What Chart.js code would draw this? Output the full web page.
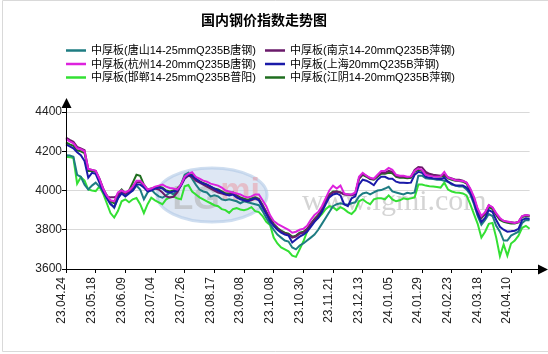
<!DOCTYPE html>
<html>
<head>
<meta charset="utf-8">
<script src="https://cdn.jsdelivr.net/npm/chart.js@4"></script>
<style>
html,body{margin:0;padding:0;background:#fff;}
canvas{display:block;}
</style>
</head>
<body>
<canvas id="c" width="548" height="354"></canvas>
<script>
// ---- DATA (one value every 2 trading days, 23.04.24 .. 24.04.24) ----
const tickLabels = ['23.04.24','23.05.18','23.06.09','23.07.04','23.07.26','23.08.17','23.09.08','23.10.08',
  '23.10.30','23.11.21','23.12.13','24.01.05','24.01.29','24.02.23','24.03.18','24.04.10'];
const pointCount = 126;
const pointsPerTick = 8;

const seriesNames = ['中厚板(唐山14-25mmQ235B唐钢)','中厚板(南京14-20mmQ235B萍钢)','中厚板(杭州14-20mmQ235B唐钢)',
  '中厚板(上海20mmQ235B萍钢)','中厚板(邯郸14-25mmQ235B普阳)','中厚板(江阴14-20mmQ235B萍钢)'];

const tangshan = [4180,4178,4172,4080,4070,4030,4005,4025, 4040,4020,4000,3970,3935,3912,3960,3995,
  3980,3990,4000,4025,4005,3955,3990,4005, 3985,3970,3963,3975,3990,3980,4000,4030,
  4080,4090,4060,4030,4005,3995,3990,3970, 3975,3970,3955,3950,3955,3950,3945,3935,
  3945,3940,3935,3930,3925,3895,3860,3830, 3800,3775,3760,3745,3740,3710,3700,3720,
  3730,3745,3760,3775,3800,3830,3860,3890, 3920,3930,3935,3930,3928,3935,3940,3970,
  3985,3990,3980,3990,4000,4002,4010,4019, 3995,3990,3985,3980,3988,3985,3990,4075,
  4075,4062,4060,4058,4055,4055,4050,4045, 4030,4025,4020,4020,4005,3980,3930,3870,
  3825,3850,3880,3870,3820,3790,3745,3745, 3770,3780,3790,3835,3850,3848];
const nanjing = [4270,4258,4248,4222,4215,4205,4110,4105, 4100,4062,4012,3970,3965,3965,3975,3995,
  3985,3995,4015,4040,4045,4025,4000,4005, 4010,4005,3990,3970,3965,3968,3990,4025,
  4060,4075,4070,4050,4040,4030,4020,4010, 4000,3990,3985,3980,3978,3985,3970,3960,
  3950,3945,3950,3960,3955,3925,3890,3855, 3825,3805,3790,3780,3775,3760,3765,3780,
  3785,3800,3830,3850,3870,3900,3940,3975, 3990,3995,3990,3980,3978,3976,3980,4060,
  4085,4075,4060,4058,4075,4090,4090,4100, 4095,4075,4070,4070,4068,4070,4105,4120,
  4118,4095,4085,4080,4078,4075,4080,4068, 4062,4055,4055,4050,4040,4005,3960,3900,
  3862,3885,3925,3912,3880,3855,3845,3840, 3838,3836,3840,3868,3875,3872];
const hangzhou = [4262,4250,4240,4215,4210,4200,4110,4105, 4100,4060,4010,3975,3950,3945,3990,4000,
  3990,4000,4020,4050,4050,4030,4005,4010, 4020,4025,4030,4020,4013,4010,4005,4030,
  4070,4085,4093,4070,4060,4050,4045,4035, 4030,4025,4015,4000,3995,3990,3985,3980,
  3970,3965,3970,3980,3980,3950,3920,3875, 3845,3830,3820,3810,3800,3785,3790,3800,
  3805,3820,3850,3875,3890,3920,3960,4000, 4025,4010,4025,3985,3980,3980,3990,4070,
  4090,4075,4065,4060,4080,4100,4100,4115, 4105,4080,4075,4075,4070,4072,4100,4112,
  4105,4080,4075,4072,4070,4072,4095,4065, 4060,4052,4050,4048,4040,4010,3968,3908,
  3870,3890,3925,3915,3885,3860,3845,3842, 3838,3835,3840,3870,3875,3872];
const shanghai = [4235,4225,4215,4195,4180,4150,4065,4090, 4085,4040,3995,3960,3930,3915,3960,3985,
  3970,3985,4000,4030,4030,4015,3995,4000, 4010,4015,4010,3995,3990,3995,4000,4025,
  4065,4080,4075,4060,4045,4035,4030,4020, 4010,4000,3990,3980,3975,3980,3965,3955,
  3950,3945,3955,3960,3950,3915,3880,3845, 3820,3800,3785,3775,3770,3735,3750,3765,
  3775,3790,3815,3840,3860,3890,3930,3965, 3980,3985,3975,3930,3920,3960,3970,4030,
  4055,4050,4040,4027,4055,4070,4070,4060, 4060,4045,4040,4040,4038,4040,4080,4095,
  4090,4070,4065,4062,4060,4058,4065,4045, 4035,4025,4025,4025,4015,3990,3940,3880,
  3840,3860,3900,3890,3850,3815,3800,3790, 3792,3795,3805,3850,3858,3855];
const handan = [4172,4170,4165,4035,4068,4050,4005,4000, 3997,4020,3985,3935,3885,3862,3895,3945,
  3955,3940,3955,3962,3930,3885,3930,3963, 3950,3940,3930,3955,3965,3970,3960,3955,
  4022,4028,3995,3980,3965,3955,3945,3935, 3925,3920,3905,3900,3886,3905,3910,3903,
  3900,3905,3915,3895,3890,3870,3840,3825, 3760,3730,3710,3700,3690,3668,3662,3700,
  3740,3790,3825,3845,3860,3880,3905,3920, 3915,3900,3915,3905,3890,3880,3900,3945,
  3955,3940,3930,3955,3960,3960,3955,3975, 3955,3945,3950,3960,3955,3960,3965,4030,
  4030,4025,4022,4020,4018,4015,4040,4005, 3995,3990,3988,3985,3975,3930,3880,3830,
  3760,3790,3830,3835,3760,3665,3725,3668, 3730,3745,3770,3810,3820,3805];
const jiangyin = [4245,4235,4228,4205,4200,4190,4100,4100, 4095,4055,4005,3975,3945,3935,3985,4005,
  3985,4000,4040,4080,4075,4030,4005,4010, 4015,4020,4015,4000,3995,4000,4010,4030,
  4070,4080,4080,4060,4048,4038,4030,4020, 4010,4005,3995,3985,3985,3990,3975,3965,
  3958,3952,3960,3965,3958,3925,3890,3860, 3830,3810,3795,3785,3780,3765,3770,3785,
  3790,3805,3830,3855,3875,3905,3945,3980, 3995,3995,3990,3982,3980,3978,3985,4060,
  4080,4070,4058,4055,4070,4085,4085,4090, 4088,4070,4065,4065,4062,4065,4095,4105,
  4100,4085,4078,4075,4072,4070,4075,4062, 4055,4050,4048,4045,4035,4000,3955,3895,
  3860,3880,3915,3905,3875,3850,3840,3835, 3832,3832,3838,3865,3870,3868];

const yMin = 3600, yMax = 4400, yStep = 200;

// categories: a tick label every pointsPerTick points
const categories = [];
for (let i = 0; i < pointCount; i++) {
  categories.push(i % pointsPerTick === 0 && tickLabels[i / pointsPerTick] ? tickLabels[i / pointsPerTick] : '');
}

const colors = ['#1e7c82','#6a1a6a','#dd22dd','#1a1aa8','#33e033','#1f6e1f'];
const orders = [4, 2, 0, 1, 5, 3];
const seriesData = [tangshan, nanjing, hangzhou, shanghai, handan, jiangyin];

const LATIN = '"Liberation Sans", Arial, "Noto Sans CJK SC", sans-serif';

const decor = {
  id: 'decor',
  beforeDatasetsDraw(chart) {
    const ctx = chart.ctx;
    ctx.save();
    // watermark ellipse
    ctx.beginPath();
    ctx.ellipse(212, 195, 55, 27, 0, 0, Math.PI * 2);
    ctx.fillStyle = 'rgba(195,212,235,0.55)';
    ctx.fill();
    ctx.lineWidth = 3;
    ctx.strokeStyle = 'rgba(175,200,230,0.6)';
    ctx.stroke();
    ctx.font = 'bold 34px "Liberation Sans", Arial, sans-serif';
    ctx.fillStyle = 'rgba(175,175,175,0.55)';
    ctx.textAlign = 'center';
    ctx.textBaseline = 'middle';
    ctx.fillText('LG', 196, 200);
    ctx.fillStyle = 'rgba(235,150,160,0.5)';
    ctx.fillText('mi', 240, 192);
    ctx.font = '30px "Liberation Serif", "DejaVu Serif", serif';
    ctx.fillStyle = 'rgba(160,160,160,0.45)';
    ctx.textAlign = 'left';
    ctx.fillText('www.lgmi.com', 302, 202);
    ctx.restore();
  },
  afterDraw(chart) {
    const ctx = chart.ctx;
    const area = chart.chartArea;
    ctx.save();
    // outer frame
    ctx.strokeStyle = '#d9d9d9';
    ctx.lineWidth = 1;
    ctx.beginPath();
    ctx.moveTo(548, 0.5); ctx.lineTo(2.5, 0.5); ctx.lineTo(2.5, 351.5); ctx.lineTo(548, 351.5);
    ctx.stroke();
    // axes with arrows
    ctx.strokeStyle = '#000';
    ctx.fillStyle = '#000';
    ctx.beginPath();
    ctx.moveTo(area.left + 0.5, area.bottom + 0.5);
    ctx.lineTo(area.left + 0.5, 104);
    ctx.moveTo(area.left, area.bottom + 0.5);
    ctx.lineTo(541, area.bottom + 0.5);
    ctx.stroke();
    ctx.beginPath();
    ctx.moveTo(area.left + 0.5, 98); ctx.lineTo(area.left - 4.5, 108); ctx.lineTo(area.left + 5.5, 108); ctx.closePath();
    ctx.fill();
    ctx.beginPath();
    ctx.moveTo(548, area.bottom + 0.5); ctx.lineTo(538, area.bottom - 4.5); ctx.lineTo(538, area.bottom + 5.5); ctx.closePath();
    ctx.fill();
    // title
    ctx.font = 'bold 14px "Noto Sans CJK SC", sans-serif';
    ctx.textAlign = 'center';
    ctx.textBaseline = 'middle';
    ctx.fillText('国内钢价指数走势图', 264, 20);
    // legend (2 columns x 3 rows)
    const colX = [66, 265];
    const rowY = [50.5, 64, 77.5];
    ctx.font = '11px ' + LATIN;
    ctx.textAlign = 'left';
    chart.data.datasets.forEach((ds, i) => {
      const x = colX[i % 2], y = rowY[Math.floor(i / 2)];
      ctx.strokeStyle = ds.borderColor;
      ctx.lineWidth = 2.5;
      ctx.beginPath();
      ctx.moveTo(x, y); ctx.lineTo(x + 20, y);
      ctx.stroke();
      ctx.fillStyle = '#000';
      ctx.fillText(ds.label, x + 25, y + 0.5);
    });
    ctx.restore();
  }
};

new Chart(document.getElementById('c'), {
  type: 'line',
  data: {
    labels: categories,
    datasets: seriesData.map((d, i) => ({
      label: seriesNames[i],
      data: d,
      borderColor: colors[i],
      backgroundColor: colors[i],
      borderWidth: 2,
      pointRadius: 0,
      tension: 0,
      order: orders[i]
    }))
  },
  options: {
    responsive: false,
    animation: false,
    devicePixelRatio: 1,
    layout: { padding: { left: 0, right: 12, top: 112, bottom: 0 } },
    plugins: { legend: { display: false }, title: { display: false }, tooltip: { enabled: false } },
    scales: {
      x: {
        type: 'category',
        offset: false,
        border: { display: false },
        grid: {
          drawOnChartArea: false,
          tickLength: 4,
          tickColor: (c) => (c.index % pointsPerTick === 0 && c.index / pointsPerTick < tickLabels.length) ? '#000' : 'rgba(0,0,0,0)'
        },
        ticks: {
          autoSkip: false,
          minRotation: 90,
          maxRotation: 90,
          padding: 4,
          labelOffset: -4,
          color: '#222',
          font: { size: 12, family: LATIN }
        },
        afterFit(scale) { scale.height = 85; }
      },
      y: {
        min: yMin,
        max: yMax,
        border: { display: false },
        grid: { color: '#d9d9d9', tickColor: '#000', tickLength: 4 },
        ticks: {
          stepSize: yStep,
          padding: 0,
          color: '#222',
          font: { size: 12, family: LATIN },
          callback: (v) => String(v)
        },
        afterFit(scale) { scale.width = 66; }
      }
    }
  },
  plugins: [decor]
});
</script>
</body>
</html>
